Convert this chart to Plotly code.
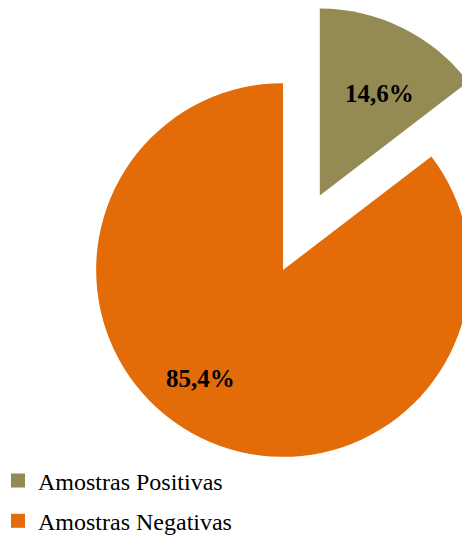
import plotly.graph_objects as go

labels = ["Amostras Positivas", "Amostras Negativas"]
values = [14.6, 85.4]
colors = ["#948A54", "#E36C09"]
pulls = [0.445, 0.0]
slice_text = [f"{v:.1f}".replace(".", ",") + "%" for v in values]

W, H = 553, 540
fig = go.Figure()
fig.add_trace(go.Pie(
    labels=labels, values=values, sort=False, direction="clockwise", rotation=0,
    pull=pulls, marker=dict(colors=colors, line=dict(width=0)),
    textinfo="none",
    domain=dict(x=[13 / W, 1], y=[0, 1]),
    showlegend=False, hoverinfo="label+percent",
))
for i, (lab, col) in enumerate(zip(labels, colors)):
    fig.add_trace(go.Scatter(
        x=[None], y=[None], mode="markers", name=lab, legendgroup=f"g{i}",
        marker=dict(symbol="square", size=14, color=col), showlegend=True,
    ))

# slice labels (pixel positions of the label centres)
label_px = [(379, 93), (200, 378)]
for txt, (px, py) in zip(slice_text, label_px):
    fig.add_annotation(
        x=px / W, y=1 - py / H, xref="paper", yref="paper", text=f"<b>{txt}</b>",
        showarrow=False, xanchor="center", yanchor="middle",
        font=dict(family="Liberation Serif", size=25, color="black"),
    )

fig.update_layout(
    width=W, height=H, autosize=False,
    margin=dict(l=0, r=0, t=0, b=0, autoexpand=False),
    paper_bgcolor="white", plot_bgcolor="white",
    xaxis=dict(visible=False), yaxis=dict(visible=False),
    legend=dict(
        x=-2 / W, xanchor="left", y=(H - 458.5) / H, yanchor="top",
        font=dict(family="Liberation Serif", size=24, color="black"),
        traceorder="grouped", tracegroupgap=6, bgcolor="rgba(0,0,0,0)",
    ),
)
fig.write_html("out.html", post_script="document.documentElement.style.overflow='hidden';document.body.style.overflow='hidden';")
